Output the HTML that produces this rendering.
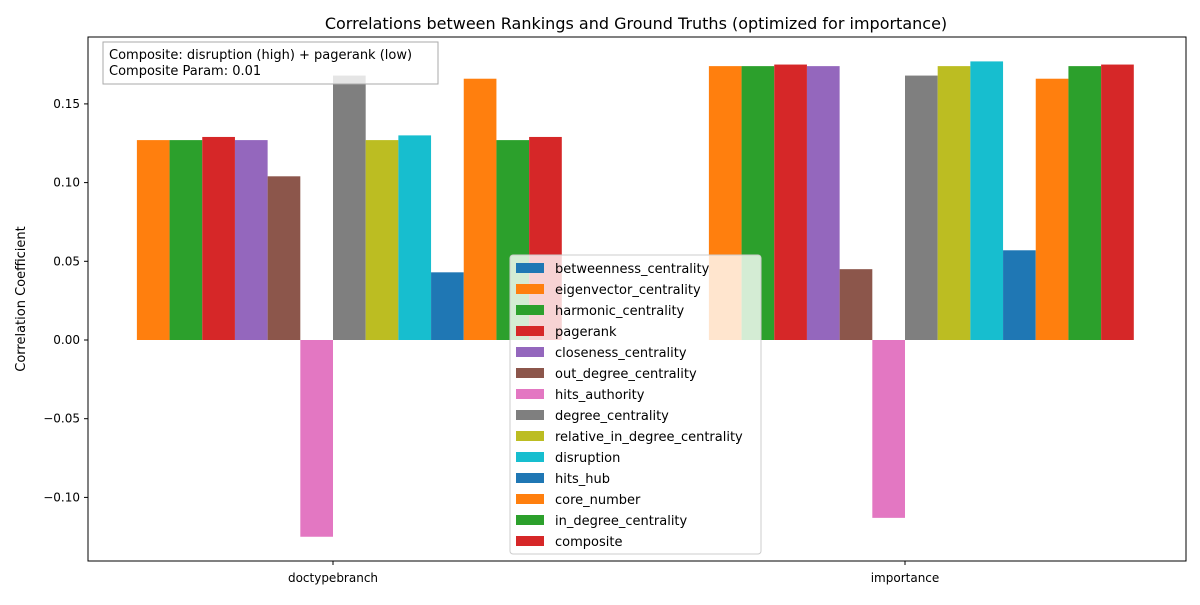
<!DOCTYPE html>
<html><head><meta charset="utf-8"><style>
body{margin:0;background:#fff;font-family:"Liberation Sans","DejaVu Sans",sans-serif}
</style></head><body>
<svg id="chart" width="1200" height="600" xmlns="http://www.w3.org/2000/svg" font-family="DejaVu Sans, Liberation Sans, sans-serif">
<rect width="1200" height="600" fill="#fff"/>
<text x="636" y="29" text-anchor="middle" font-size="16">Correlations between Rankings and Ground Truths (optimized for importance)</text>
<g id="bars"></g>
<rect x="88" y="37" width="1098" height="524" fill="none" stroke="#000" stroke-width="1"/>
<g id="axes" font-size="12"></g>
<text transform="translate(25,299) rotate(-90)" text-anchor="middle" font-size="13">Correlation Coefficient</text>
<g>
<rect x="103" y="42" width="335" height="42" fill="#fff" fill-opacity="0.8" stroke="#aaa"/>
<text x="109" y="59" font-size="13">Composite: disruption (high) + pagerank (low)</text>
<text x="109" y="75" font-size="13">Composite Param: 0.01</text>
</g>
<g id="legend" font-size="13"></g>
</svg>
<script>
const categories=["doctypebranch","importance"];
const seriesNames=["betweenness_centrality","eigenvector_centrality","harmonic_centrality","pagerank","closeness_centrality","out_degree_centrality","hits_authority","degree_centrality","relative_in_degree_centrality","disruption","hits_hub","core_number","in_degree_centrality","composite"];
const colors=["#1f77b4","#ff7f0e","#2ca02c","#d62728","#9467bd","#8c564b","#e377c2","#7f7f7f","#bcbd22","#17becf","#1f77b4","#ff7f0e","#2ca02c","#d62728"];
const doctypeValues=[0.0,0.127,0.127,0.129,0.127,0.104,-0.125,0.168,0.127,0.130,0.043,0.166,0.127,0.129];
const importanceValues=[0.0,0.174,0.174,0.175,0.174,0.045,-0.113,0.168,0.174,0.177,0.057,0.166,0.174,0.175];
const yTicks=[-0.10,-0.05,0.00,0.05,0.10,0.15];
const yTickLabels=["\u22120.10","\u22120.05","0.00","0.05","0.10","0.15"];
const NS="http://www.w3.org/2000/svg";
const y0=340,pxPer=1574;
function yScale(v){return y0-v*pxPer;}
function xCenter(i){return 333+i*572;}
const barW=572*0.8/seriesNames.length;
const bars=document.getElementById('bars');
[doctypeValues,importanceValues].forEach((vals,ci)=>{
  vals.forEach((v,si)=>{
    const r=document.createElementNS(NS,'rect');
    
    
    const x=xCenter(ci)-286*0.8+si*barW;
    const top=Math.min(yScale(v),y0),h=Math.abs(yScale(v)-y0);
    r.setAttribute('x',x);r.setAttribute('y',top);r.setAttribute('width',barW);r.setAttribute('height',h);
    r.setAttribute('fill',colors[si]);
    bars.appendChild(r);
  });
});
const axes=document.getElementById('axes');
yTicks.forEach((t,i)=>{
  const y=yScale(t);
  const l=document.createElementNS(NS,'line');
  
  
  l.setAttribute('x1',84);l.setAttribute('x2',88);l.setAttribute('y1',y);l.setAttribute('y2',y);l.setAttribute('stroke','#000');
  axes.appendChild(l);
  const tx=document.createElementNS(NS,'text');
  
  
  tx.setAttribute('x',80);tx.setAttribute('y',y+4);tx.setAttribute('text-anchor','end');
  tx.textContent=yTickLabels[i];axes.appendChild(tx);
});
categories.forEach((c,i)=>{
  const x=xCenter(i);
  const l=document.createElementNS(NS,'line');
  
  
  l.setAttribute('x1',x);l.setAttribute('x2',x);l.setAttribute('y1',561);l.setAttribute('y2',565);l.setAttribute('stroke','#000');
  axes.appendChild(l);
  const tx=document.createElementNS(NS,'text');
  
  
  tx.setAttribute('x',x);tx.setAttribute('y',582);tx.setAttribute('text-anchor','middle');
  tx.textContent=c;axes.appendChild(tx);
});
const lg=document.getElementById('legend');
const box=document.createElementNS(NS,'rect');


box.setAttribute('x',510);box.setAttribute('y',255);box.setAttribute('width',251);box.setAttribute('height',299);
box.setAttribute('rx',3);box.setAttribute('fill','#fff');box.setAttribute('fill-opacity','0.8');box.setAttribute('stroke','#ccc');
lg.appendChild(box);
seriesNames.forEach((n,i)=>{
  const y=268+i*21;
  const g=document.createElementNS(NS,'g');
  
  
  const r=document.createElementNS(NS,'rect');
  r.setAttribute('x',516);r.setAttribute('y',y-5);r.setAttribute('width',28);r.setAttribute('height',10);r.setAttribute('fill',colors[i]);
  g.appendChild(r);
  const t=document.createElementNS(NS,'text');
  t.setAttribute('x',555);t.setAttribute('y',y+5);t.textContent=n;
  g.appendChild(t);
  lg.appendChild(g);
});
</script>
</body></html>
